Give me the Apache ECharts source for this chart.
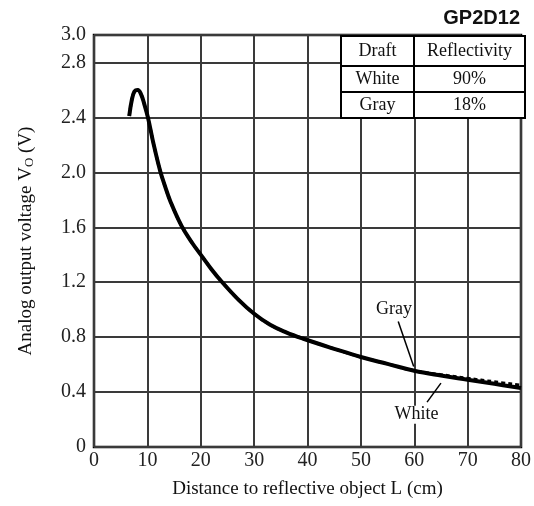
<!DOCTYPE html>
<html>
<head>
<meta charset="utf-8">
<script src="https://cdn.jsdelivr.net/npm/echarts@6/dist/echarts.min.js"></script>
<style>
  html, body { margin: 0; padding: 0; background: #fff; }
  #chart { width: 534px; height: 506px; }
</style>
</head>
<body>
<div id="chart"></div>
<script>
// distance L (cm) and output voltage (V)
const distance = [6.6, 7.1, 7.6, 8.2, 8.8, 9.4, 10.1, 11.2, 12.4, 13.3, 14.3, 16.4, 18.5, 20.2, 22, 23.9, 27, 30, 33, 36, 39.1, 45, 50, 55, 60, 65, 70, 75, 80];
const whiteVolt = [2.41, 2.53, 2.59, 2.60, 2.57, 2.50, 2.40, 2.20, 2.01, 1.90, 1.79, 1.61, 1.48, 1.39, 1.295, 1.205, 1.075, 0.97, 0.89, 0.835, 0.79, 0.715, 0.655, 0.605, 0.555, 0.52, 0.49, 0.46, 0.43];
const grayVolt = [2.41, 2.53, 2.59, 2.60, 2.57, 2.50, 2.40, 2.20, 2.01, 1.90, 1.79, 1.61, 1.48, 1.39, 1.295, 1.205, 1.075, 0.97, 0.89, 0.835, 0.79, 0.715, 0.655, 0.605, 0.555, 0.527, 0.50, 0.475, 0.45];

// legend table
const tableHead = ['Draft', 'Reflectivity'];
const tableRows = [['White', '90%'], ['Gray', '18%']];

const serif = '"Liberation Serif", "DejaVu Serif", serif';

const chart = echarts.init(document.getElementById('chart'));

function pairs(xs, ys) {
  return xs.map((x, i) => [x, ys[i]]);
}

// table drawn as graphic
const tLeft = 341, tTop = 36, colW = [73, 111], rowH = [30, 26, 26];
const tableEls = [];
const allRows = [tableHead].concat(tableRows);
let yy = tTop;
tableEls.push({
  type: 'rect', z: 100,
  shape: { x: tLeft, y: tTop, width: colW[0] + colW[1], height: rowH[0] + rowH[1] + rowH[2] },
  style: { fill: '#fff', stroke: '#000', lineWidth: 2 }
});
allRows.forEach((row, r) => {
  if (r > 0) {
    tableEls.push({
      type: 'line', z: 101,
      shape: { x1: tLeft, y1: yy, x2: tLeft + colW[0] + colW[1], y2: yy },
      style: { stroke: '#000', lineWidth: 2 }
    });
  }
  let xx = tLeft;
  row.forEach((txt, c) => {
    tableEls.push({
      type: 'text', z: 102,
      style: {
        text: txt, x: xx + colW[c] / 2, y: yy + rowH[r] / 2,
        align: 'center', verticalAlign: 'middle',
        font: '18px ' + serif, fill: '#111'
      }
    });
    xx += colW[c];
  });
  yy += rowH[r];
});
tableEls.push({
  type: 'line', z: 101,
  shape: { x1: tLeft + colW[0], y1: tTop, x2: tLeft + colW[0], y2: yy },
  style: { stroke: '#000', lineWidth: 2 }
});

const option = {
  animation: false,
  backgroundColor: '#fff',
  title: {
    text: 'GP2D12',
    right: 9,
    top: 3,
    textStyle: { fontFamily: '"Liberation Sans", Arial, sans-serif', fontWeight: 'bold', fontSize: 20, color: '#111' }
  },
  grid: {
    left: 94,
    right: 10,
    top: 35,
    bottom: 59,
    show: true,
    borderColor: '#000',
    borderWidth: 2.5
  },
  xAxis: {
    type: 'value',
    min: 0,
    max: 80,
    interval: 10,
    name: 'Distance to reflective object L (cm)',
    nameLocation: 'middle',
    nameGap: 33,
    nameTextStyle: { fontFamily: serif, fontSize: 19, color: '#111' },
    axisLine: { show: false },
    axisTick: { show: false },
    axisLabel: { fontFamily: serif, fontSize: 20, color: '#222', margin: 4 },
    splitLine: { lineStyle: { color: '#3a3a3a', width: 2 } }
  },
  yAxis: {
    type: 'value',
    min: 0,
    max: 3.0,
    interval: 0.4,
    name: 'Analog output voltage V{sub|O} (V)',
    nameLocation: 'middle',
    nameGap: 58,
    nameTextStyle: {
      fontFamily: serif, fontSize: 19, color: '#111',
      rich: { sub: { fontFamily: serif, fontSize: 13, color: '#111', verticalAlign: 'bottom', padding: [7, 0, 0, 0] } }
    },
    axisLine: { show: false },
    axisTick: { show: false },
    axisLabel: {
      fontFamily: serif, fontSize: 20, color: '#222', margin: 8,
      formatter: v => (v === 0 ? '0' : v.toFixed(1))
    },
    splitLine: { lineStyle: { color: '#3a3a3a', width: 2 } }
  },
  series: [
    {
      name: 'Gray',
      type: 'line',
      smooth: 0.4,
      symbol: 'none',
      z: 3,
      lineStyle: { color: '#000', width: 3, type: [4, 3] },
      data: pairs(distance, grayVolt),
      markLine: {
        silent: true,
        symbol: 'none',
        lineStyle: { color: '#000', width: 1.5, type: 'solid' },
        label: { show: false },
        data: [
          [{ coord: [57.0, 0.913] }, { coord: [59.9, 0.586] }],
          [{ coord: [62.4, 0.327] }, { coord: [65.0, 0.465] }]
        ]
      },
      markPoint: {
        silent: true,
        symbol: 'rect',
        symbolSize: 1,
        itemStyle: { color: 'transparent' },
        label: {
          show: true,
          fontFamily: serif,
          fontSize: 18,
          color: '#111',
          backgroundColor: '#fff',
          padding: [0, 1],
          formatter: p => p.name
        },
        data: [
          { name: 'Gray', coord: [56.2, 1.0] },
          { name: 'White', coord: [60.4, 0.235] }
        ]
      }
    },
    {
      name: 'White',
      type: 'line',
      smooth: 0.4,
      symbol: 'none',
      z: 4,
      lineStyle: { color: '#000', width: 4 },
      data: pairs(distance, whiteVolt)
    }
  ],
  graphic: tableEls
};

chart.setOption(option);
</script>
</body>
</html>
